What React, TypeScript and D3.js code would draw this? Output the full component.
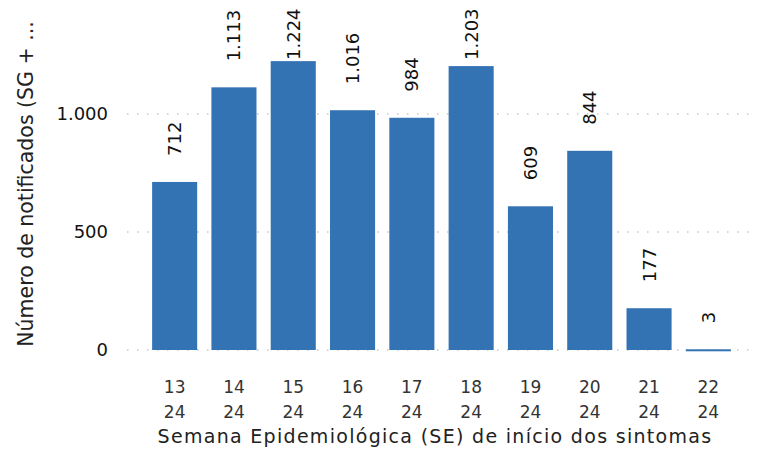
import React from 'react'
import * as d3 from 'd3'

const weeks = ['13', '14', '15', '16', '17', '18', '19', '20', '21', '22']
const years = ['24', '24', '24', '24', '24', '24', '24', '24', '24', '24']
const notified = [712, 1113, 1224, 1016, 984, 1203, 609, 844, 177, 3]
const yTicks = [0, 500, 1000]

const W = 759
const H = 449
const FONT = '"DejaVu Sans", sans-serif'

const fmt = (v: number) => d3.format(',')(v).replace(/,/g, '.')

export default function App() {
  const x = d3.scaleBand<string>()
    .domain(weeks)
    .range([145, 738])
    .paddingInner(0.24)
    .paddingOuter(0.12)

  const y = d3.scaleLinear()
    .domain([0, 1000])
    .range([350, 114])

  return (
    <svg width={W} height={H} style={{ position: 'absolute', left: 0, top: 0, background: '#fff' }}>
      {yTicks.map(t => (
        <g key={t}>
          <line x1={127} x2={752} y1={y(t)} y2={y(t)}
            stroke="#c8c8c8" strokeWidth={1.5} strokeDasharray="1.5 8.5" />
          <text x={108} y={y(t)} dy="0.36em" textAnchor="end"
            fontFamily={FONT} fontSize={18} fill="#111">{fmt(t)}</text>
        </g>
      ))}

      {notified.map((v, i) => {
        const top = y(v)
        const ly = Math.max(top - 26, 60)
        const cx = x(weeks[i])! + x.bandwidth() / 2
        return (
          <g key={weeks[i]}>
            <rect x={x(weeks[i])} y={top} width={x.bandwidth()}
              height={Math.max(y(0) - top, 2)} fill="#3373b3" />
            <text transform={`translate(${cx + 6.5},${ly}) rotate(-90)`}
              fontFamily={FONT} fontSize={18} fill="#111">{fmt(v)}</text>
          </g>
        )
      })}

      {weeks.map((w, i) => {
        const cx = x(w)! + x.bandwidth() / 2
        return (
          <text key={w} x={cx} textAnchor="middle" fontFamily={FONT} fontSize={17} fill="#333">
            <tspan x={cx} y={393}>{w}</tspan>
            <tspan x={cx} y={418}>{years[i]}</tspan>
          </text>
        )
      })}

      <text x={435} y={443} textAnchor="middle" fontFamily={FONT} fontSize={19}
        letterSpacing={1.3} fill="#222">Semana Epidemiológica (SE) de início dos sintomas</text>

      <text transform="translate(33,184) rotate(-90)" textAnchor="middle"
        fontFamily={FONT} fontSize={20.5} fill="#222">Número de notificados (SG + ...</text>
    </svg>
  )
}
